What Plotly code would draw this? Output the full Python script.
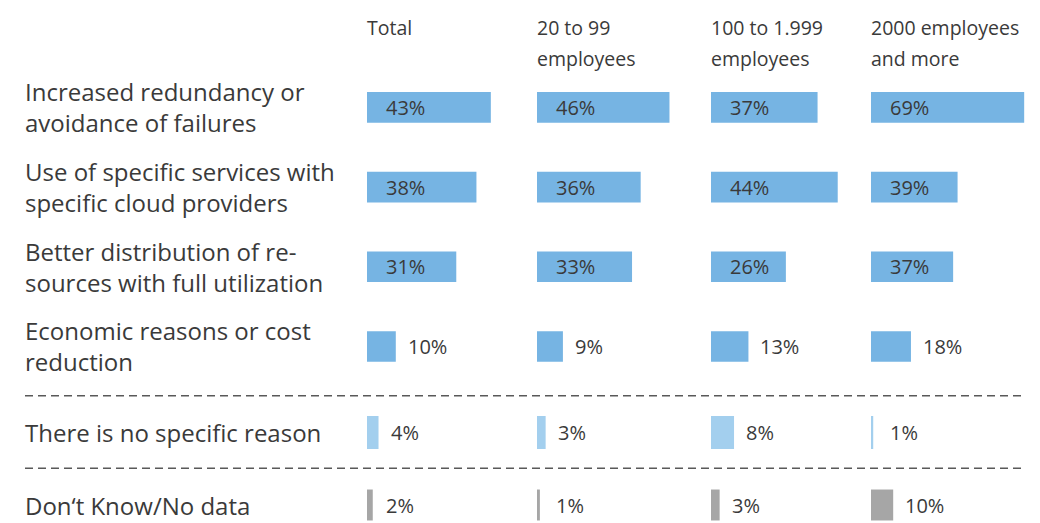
import plotly.graph_objects as go

# ---------------- data ----------------
column_headers = [["Total"], ["20 to 99", "employees"], ["100 to 1.999", "employees"], ["2000 employees", "and more"]]
reasons = [
    "Increased redundancy or<br>avoidance of failures",
    "Use of specific services with<br>specific cloud providers",
    "Better distribution of re-<br>sources with full utilization",
    "Economic reasons or cost<br>reduction",
]
no_reason_label = "There is no specific reason"
dont_know_label = "Don‘t Know/No data"

total = [43, 38, 31, 10]
emp_20_99 = [46, 36, 33, 9]
emp_100_1999 = [37, 44, 26, 13]
emp_2000_plus = [69, 39, 37, 18]
no_specific_reason = [4, 3, 8, 1]      # per column
dont_know = [2, 1, 3, 10]              # per column

# ---------------- layout helpers ----------------
W, H = 1040, 523
OFF = 8  # page body margin
def px(x):
    return (x - OFF) / W
def py(y):
    return 1 - (y - OFF) / H

main_blue = "#76b4e3"
light_blue = "#a3cfee"
grey = "#a6a6a6"
text_col = "#3a3a3a"
FONT = "Open Sans"

col_start = [367, 537, 711, 871]
col_end = [530, 705, 864, 1040]
col_scale = [2.88, 2.88, 2.88, 2.22]   # pixels per percent
series = [total, emp_20_99, emp_100_1999, emp_2000_plus]
xaxes = ["x", "x2", "x3", "x4"]

fig = go.Figure()
annotations = []

groups = [
    ("y", [reasons[i] for i in range(4)], 0.385, main_blue),
    ("y2", [no_reason_label], 0.82, light_blue),
    ("y3", [dont_know_label], 0.86, grey),
]

for c in range(4):
    xa = xaxes[c]
    vals_by_group = [series[c], [no_specific_reason[c]], [dont_know[c]]]
    for (ya, cats, bw, color), vals in zip(groups, vals_by_group):
        fig.add_trace(go.Bar(
            x=vals, y=cats, orientation="h", xaxis=xa, yaxis=ya,
            marker=dict(color=color, line=dict(width=0)), width=bw,
            showlegend=False, hoverinfo="skip",
        ))
        for v, cat in zip(vals, cats):
            bar_px = v * col_scale[c]
            if v >= 20:
                xv, xs = 0, 19
            else:
                xv, xs = v, max(12, 19 - bar_px)
            annotations.append(dict(
                x=xv, y=cat, xref=xa, yref=ya, text=f"{v}%", showarrow=False,
                xanchor="left", yanchor="middle", xshift=xs - 2,
                font=dict(family=FONT, size=20, color=text_col),
            ))

# axes
layout_axes = {}
for c in range(4):
    key = "xaxis" if c == 0 else f"xaxis{c+1}"
    width_px = col_end[c] - col_start[c]
    layout_axes[key] = dict(
        domain=[px(col_start[c]), px(col_end[c])],
        range=[0, width_px / col_scale[c]],
        visible=False, anchor="y", fixedrange=True,
    )

main_top, main_bot = 67.45, 386.35
layout_axes["yaxis"] = dict(
    domain=[py(main_bot), py(main_top)], type="category",
    categoryarray=reasons, range=[3.5, -0.5], visible=False, anchor="x",
)
layout_axes["yaxis2"] = dict(
    domain=[py(452.5), py(412.5)], type="category",
    categoryarray=[no_reason_label], range=[0.5, -0.5], visible=False, anchor="x",
)
layout_axes["yaxis3"] = dict(
    domain=[py(523), py(487)], type="category",
    categoryarray=[dont_know_label], range=[0.5, -0.5], visible=False, anchor="x",
)

# column headers
header_y = [27, 58]
for c in range(4):
    for li, line in enumerate(column_headers[c]):
        annotations.append(dict(
            x=px(col_start[c] - 2), y=py(header_y[li]), xref="paper", yref="paper",
            text=line, showarrow=False, xanchor="left", yanchor="middle",
            font=dict(family=FONT, size=19.5, color=text_col),
        ))

# row labels
for i, r in enumerate(reasons):
    annotations.append(dict(
        x=px(23), y=r, xref="paper", yref="y", text=r, showarrow=False,
        xanchor="left", yanchor="middle", align="left",
        font=dict(family=FONT, size=24, color=text_col),
    ))
annotations.append(dict(
    x=px(23), y=no_reason_label, xref="paper", yref="y2", text=no_reason_label,
    showarrow=False, xanchor="left", yanchor="middle",
    font=dict(family=FONT, size=24, color=text_col),
))
annotations.append(dict(
    x=px(23), y=dont_know_label, xref="paper", yref="y3", text=dont_know_label,
    showarrow=False, xanchor="left", yanchor="middle",
    font=dict(family=FONT, size=24, color=text_col),
))

shapes = []
for yy in [395.7, 468.3]:
    shapes.append(dict(
        type="line", xref="paper", yref="paper", x0=px(25), x1=px(1021),
        y0=py(yy), y1=py(yy), line=dict(color="#595959", width=1.5, dash="8px,5px"),
    ))

fig.update_layout(
    width=W, height=H, margin=dict(l=0, r=0, t=0, b=0),
    paper_bgcolor="white", plot_bgcolor="white",
    barmode="overlay", annotations=annotations, shapes=shapes,
    showlegend=False, **layout_axes,
)

fig.write_html("out.html", config={"displayModeBar": False})
